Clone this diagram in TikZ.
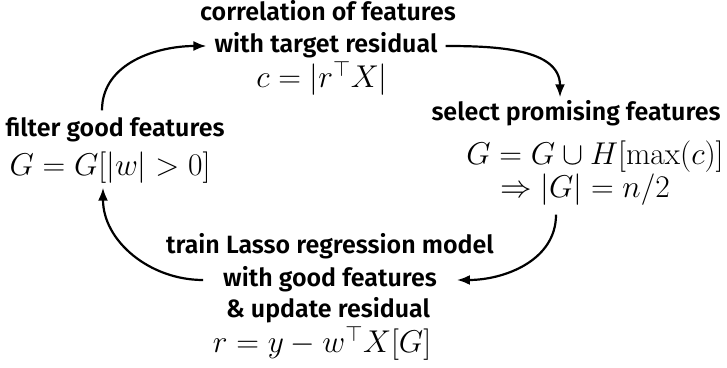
\RequirePackage{fix-cm}
\documentclass[tikz,border=0pt]{standalone}
\usepackage{fontspec}
\setsansfont{Fira Sans}[BoldFont={* SemiBold}]
\usetikzlibrary{arrows.meta}

\begin{document}
\begin{tikzpicture}[x=1pt, y=1pt,
        txt/.style={font=\sffamily\bfseries\fontsize{25}{29}\selectfont, inner sep=0pt, text height=18pt, text depth=5pt},
        formula/.style={font=\fontsize{31.5}{36}\selectfont, inner sep=0pt, text height=22pt, text depth=7pt},
        flow/.style={line width=2.2pt, -{Latex[length=13pt, width=10pt]}}]
    \useasboundingbox (0,0) rectangle (727,367);
    % step 1
    \node[txt] (corrA) at (328,353) {correlation of features};
    \node[txt] (corrB) at (326,321) {with target residual};
    \node[formula] (corrM) at (322,287) {$c = |r^\top X|$};
    % step 2
    \node[txt] (selectA) at (576,253) {select promising features};
    \node[formula] (selectM) at (595,210) {$G = G \cup H[\max(c)]$};
    \node[formula] (selectN) at (585,177) {$\Rightarrow |G| = n/2$};
    % step 3
    \node[txt] (trainA) at (330,120) {train Lasso regression model};
    \node[txt] (trainB) at (330,87) {with good features};
    \node[txt] (trainC) at (328,56) {\& update residual};
    \node[formula] (trainM) at (322,22) {$r = y - w^\top X[G]$};
    % step 4
    \node[txt] (filterA) at (115,237) {filter good features};
    \node[formula] (filterM) at (110,199) {$G = G[|w| > 0]$};

    \draw[flow] ([xshift=-13pt, yshift=8pt]filterA.north) to[out=90, in=180] ([xshift=-8pt]corrB.west);
    \draw[flow] ([xshift=8pt]corrB.east) to[out=0, in=90] ([xshift=-16pt, yshift=5pt]selectA.north);
    \draw[flow] ([xshift=-29pt, yshift=-10pt]selectN.south) to[out=-90, in=0] ([xshift=20pt]trainB.east);
    \draw[flow] ([xshift=-20pt]trainB.west) to[out=180, in=-90] ([xshift=-7pt, yshift=-5pt]filterM.south);
\end{tikzpicture}
\end{document}
